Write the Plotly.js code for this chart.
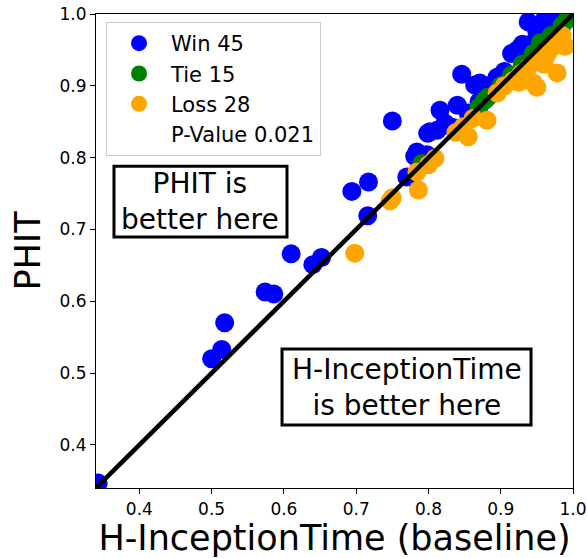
<!DOCTYPE html>
<html>
<head>
<meta charset="utf-8">
<script src="https://cdn.plot.ly/plotly-3.0.1.min.js"></script>
<style>html,body{margin:0;padding:0;background:#fff;}#chart{width:587px;height:558px;}</style>
</head>
<body>
<div id="chart"></div>
<script>
// Win (PHIT better): x = H-InceptionTime, y = PHIT
var winX = [0.343, 0.500, 0.514, 0.518, 0.574, 0.586, 0.610, 0.640, 0.652, 0.694,
            0.717, 0.716, 0.750, 0.770, 0.784, 0.781, 0.798, 0.799, 0.812, 0.816,
            0.823, 0.840, 0.855, 0.846, 0.864, 0.895, 0.871, 0.923, 0.930, 0.938,
            0.961, 0.980, 0.945, 0.834, 0.802, 0.870, 0.905, 0.915, 0.950, 0.968,
            0.985, 0.990, 0.975, 0.892, 0.955];
var winY = [0.347, 0.520, 0.533, 0.570, 0.613, 0.610, 0.666, 0.651, 0.661, 0.753,
            0.766, 0.719, 0.851, 0.773, 0.808, 0.802, 0.804, 0.834, 0.838, 0.866,
            0.848, 0.873, 0.862, 0.916, 0.901, 0.912, 0.904, 0.950, 0.958, 0.989,
            0.993, 0.988, 0.960, 0.842, 0.836, 0.878, 0.920, 0.945, 0.975, 0.990,
            0.995, 0.998, 0.982, 0.905, 0.985];
// Tie
var tieX = [0.791, 0.878, 0.882, 0.955, 0.992, 1.000, 0.985, 0.930, 0.900, 0.960,
            0.970, 0.945, 0.915, 0.870, 0.998];
var tieY = [0.792, 0.880, 0.884, 0.960, 0.992, 1.000, 0.984, 0.930, 0.900, 0.960,
            0.970, 0.945, 0.915, 0.870, 0.998];
// Loss (H-InceptionTime better)
var lossX = [0.698, 0.750, 0.747, 0.786, 0.784, 0.809, 0.855, 0.848, 0.881, 0.905,
             0.917, 0.945, 0.978, 0.972, 0.952, 0.938, 0.950, 0.989, 0.928, 0.838,
             0.862, 0.895, 0.965, 0.925, 0.800, 0.985, 0.960, 0.930];
var lossY = [0.667, 0.744, 0.740, 0.755, 0.780, 0.799, 0.829, 0.843, 0.852, 0.900,
             0.907, 0.904, 0.918, 0.954, 0.936, 0.925, 0.898, 0.955, 0.917, 0.835,
             0.855, 0.890, 0.945, 0.905, 0.790, 0.970, 0.930, 0.910];
var legendNames = ['Win 45', 'Tie 15', 'Loss 28', 'P-Value 0.021'];
var axisRange = [0.34, 1.0];
var tickVals = [0.4, 0.5, 0.6, 0.7, 0.8, 0.9, 1.0];
var tickText = ['0.4', '0.5', '0.6', '0.7', '0.8', '0.9', '1.0'];
var xTitle = 'H-InceptionTime (baseline)';
var yTitle = 'PHIT';
var note1 = 'PHIT is<br>better here';
var note2 = 'H-InceptionTime<br>is better here';

var F = 'DejaVu Sans, Arial, sans-serif';
var msize = 19;
var traces = [
  {x: winX, y: winY, mode: 'markers', type: 'scatter', name: legendNames[0],
   marker: {color: 'blue', size: msize}},
  {x: tieX, y: tieY, mode: 'markers', type: 'scatter', name: legendNames[1],
   marker: {color: 'green', size: msize}},
  {x: lossX, y: lossY, mode: 'markers', type: 'scatter', name: legendNames[2],
   marker: {color: 'orange', size: msize}},
  {x: [null], y: [null], mode: 'markers', type: 'scatter', name: legendNames[3],
   marker: {color: 'rgba(0,0,0,0)', size: msize}},
  {x: axisRange, y: axisRange, mode: 'lines', type: 'scatter', showlegend: false,
   line: {color: 'black', width: 4.5}, hoverinfo: 'skip'}
];
var axisCommon = {
  range: axisRange, tickvals: tickVals, ticktext: tickText,
  ticks: 'outside', ticklen: 5, tickwidth: 1, tickcolor: 'black',
  showline: true, linecolor: 'black', linewidth: 1, mirror: true,
  showgrid: false, zeroline: false,
  tickfont: {family: F, size: 17, color: 'black'}
};
var layout = {
  width: 587, height: 558,
  margin: {l: 96, r: 14, t: 14, b: 70, pad: 0},
  paper_bgcolor: 'white', plot_bgcolor: 'white',
  font: {family: F, color: 'black'},
  xaxis: Object.assign({}, axisCommon, {
    ticklabelstandoff: 1,
    title: {text: xTitle, font: {family: F, size: 35, color: 'black'}, standoff: 5}
  }),
  yaxis: Object.assign({}, axisCommon, {
    title: {text: yTitle, font: {family: F, size: 35, color: 'black'}, standoff: 8}
  }),
  showlegend: true,
  legend: {
    x: 0.021, y: 0.983, xanchor: 'left', yanchor: 'top',
    bgcolor: 'rgba(255,255,255,0.8)', bordercolor: '#cccccc', borderwidth: 1,
    font: {family: F, size: 21, color: 'black'}, itemsizing: 'trace', itemwidth: 54
  },
  shapes: [
    {type: 'rect', xref: 'paper', yref: 'paper', x0: 0.0377, x1: 0.4004, y0: 0.5295, y1: 0.679,
     line: {color: 'black', width: 3}, fillcolor: 'white', layer: 'above'},
    {type: 'rect', xref: 'paper', yref: 'paper', x0: 0.39, x1: 0.912, y0: 0.133, y1: 0.293,
     line: {color: 'black', width: 3}, fillcolor: 'white', layer: 'above'}
  ],
  annotations: [
    {xref: 'paper', yref: 'paper', x: 0.219, y: 0.604, text: note1, showarrow: false,
     xanchor: 'center', yanchor: 'middle', font: {family: F, size: 28, color: 'black'}},
    {xref: 'paper', yref: 'paper', x: 0.651, y: 0.213, text: note2, showarrow: false,
     xanchor: 'center', yanchor: 'middle', font: {family: F, size: 28, color: 'black'}}
  ]
};
Plotly.newPlot('chart', traces, layout, {displayModeBar: false, staticPlot: true});
</script>
</body>
</html>
